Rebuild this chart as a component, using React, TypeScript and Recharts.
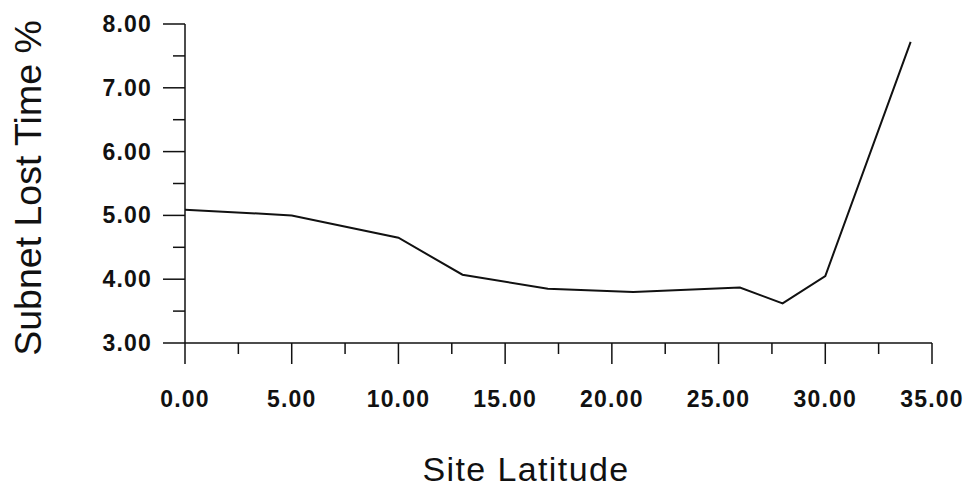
import React from "react";
import { LineChart, Line, XAxis, YAxis } from "recharts";

// site latitude (deg) vs subnet lost time (%)
const latitudes = [0, 5, 10, 13, 17, 21, 26, 28, 30, 34];
const lostTime = [5.09, 5.0, 4.65, 4.07, 3.85, 3.8, 3.87, 3.62, 4.05, 7.72];

const xTicks = [0, 2.5, 5, 7.5, 10, 12.5, 15, 17.5, 20, 22.5, 25, 27.5, 30, 32.5, 35];
const yTicks = [3, 3.5, 4, 4.5, 5, 5.5, 6, 6.5, 7, 7.5, 8];

const data = latitudes.map((lat, i) => ({ lat, lost: lostTime[i] }));

const INK = "#111";
const tickFont = { fontFamily: "'Liberation Sans', Arial, sans-serif", fontSize: 23, fontWeight: 700, letterSpacing: 1.2 };
const titleFont = "'Liberation Sans', Arial, sans-serif";

function XTick(props: any) {
  const { x, y, payload } = props;
  const v = payload.value as number;
  const major = v % 5 === 0;
  return (
    <g>
      <line x1={x} x2={x} y1={y} y2={y + (major ? 21 : 11)} stroke={INK} strokeWidth={1.5} />
      {major && (
        <text x={x} y={y + 64} textAnchor="middle" fill={INK} style={tickFont}>
          {v.toFixed(2)}
        </text>
      )}
    </g>
  );
}

function YTick(props: any) {
  const { x, y, payload } = props;
  const v = payload.value as number;
  const major = Number.isInteger(v);
  return (
    <g>
      <line x1={x - (major ? 22 : 12)} x2={x} y1={y} y2={y} stroke={INK} strokeWidth={1.5} />
      {major && (
        <text x={x - 33} y={y + 8} textAnchor="end" fill={INK} style={tickFont}>
          {v.toFixed(2)}
        </text>
      )}
    </g>
  );
}

export default function App() {
  return (
    <div style={{ position: "absolute", left: 0, top: 0, width: 968, height: 489, background: "#fff" }}>
      <LineChart width={968} height={489} data={data} margin={{ top: 24, right: 36, left: 0, bottom: 0 }}>
        <XAxis
          dataKey="lat"
          type="number"
          domain={[0, 35]}
          ticks={xTicks}
          interval={0}
          height={146}
          tickSize={0}
          tickMargin={0}
          tickLine={false}
          axisLine={{ stroke: INK, strokeWidth: 1.5 }}
          tick={<XTick />}
          label={{
            content: () => (
              <text x={526} y={481} textAnchor="middle" fill={INK}
                style={{ fontFamily: titleFont, fontSize: 34, letterSpacing: 1.4 }}>
                Site Latitude
              </text>
            ),
          }}
        />
        <YAxis
          type="number"
          domain={[3, 8]}
          ticks={yTicks}
          interval={0}
          width={185}
          tickSize={0}
          tickMargin={0}
          tickLine={false}
          axisLine={{ stroke: INK, strokeWidth: 1.5 }}
          tick={<YTick />}
          label={{
            content: () => (
              <text x={41} y={188} textAnchor="middle" fill={INK} transform="rotate(-90 41 188)"
                style={{ fontFamily: titleFont, fontSize: 37.5 }}>
                Subnet Lost Time %
              </text>
            ),
          }}
        />
        <Line
          type="linear"
          dataKey="lost"
          stroke={INK}
          strokeWidth={2}
          dot={false}
          isAnimationActive={false}
        />
      </LineChart>
    </div>
  );
}
